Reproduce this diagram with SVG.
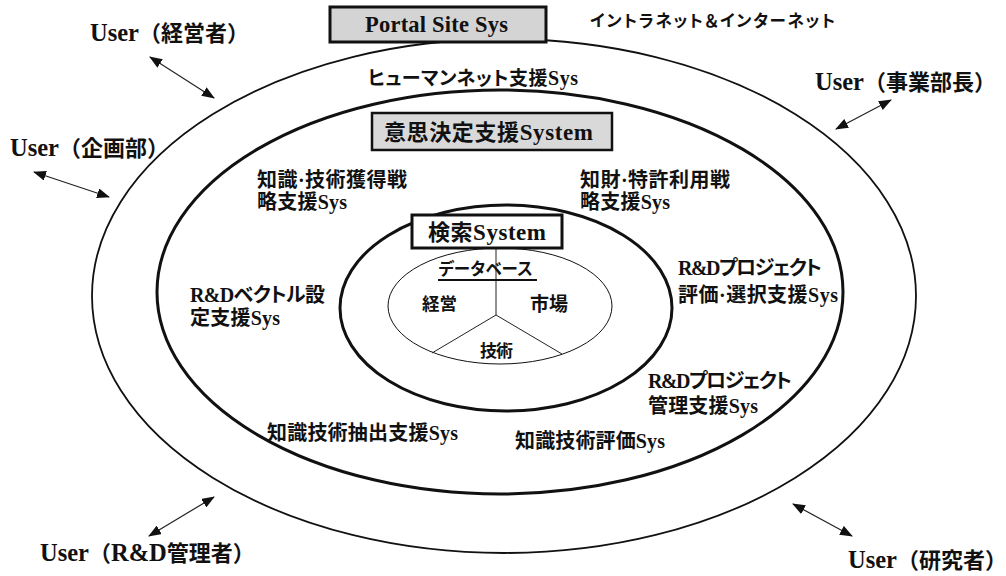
<svg xmlns="http://www.w3.org/2000/svg" width="1006" height="576" viewBox="0 0 1006 576">
  <style>
    .t { font-family: 'Liberation Serif', 'Noto Sans CJK JP', serif; font-weight: bold; fill: #111; }
    .u { font-size: 22px; }
    .ul { font-size: 24.5px; }
    .m { font-size: 20px; }
    .k { font-feature-settings: "palt"; }
    .ring { fill: none; stroke: #111; }
    .conn { stroke: #222; stroke-width: 1.2; fill: none; marker-start: url(#ah); marker-end: url(#ah); }
  </style>
  <defs>
    <marker id="ah" viewBox="0 0 13 10" refX="12" refY="5" markerWidth="13" markerHeight="10" markerUnits="userSpaceOnUse" orient="auto-start-reverse">
      <path d="M0,0 L13,5 L0,10 Z" fill="#111"/>
    </marker>
  </defs>
  <rect width="1006" height="576" fill="#fff"/>

  <g id="rings">
    <ellipse id="outer-ring" class="ring" cx="504" cy="296" rx="412" ry="257" stroke-width="1.8"/>
    <ellipse id="middle-ring" class="ring" cx="500" cy="292" rx="343" ry="202" stroke-width="3"/>
    <ellipse id="inner-ring" class="ring" cx="506" cy="308" rx="166" ry="103" stroke-width="3"/>
  </g>

  <g id="database">
    <ellipse class="ring" cx="500" cy="306" rx="112" ry="58" stroke-width="1"/>
    <path d="M496,248 L496,315 M496,315 L432,353 M496,315 L562,354" stroke="#222" stroke-width="1" fill="none"/>
    <text class="t" x="438" y="275" font-size="16.5" textLength="95" lengthAdjust="spacing">データベース</text>
    <line x1="438" y1="280" x2="537" y2="280" stroke="#111" stroke-width="2.2"/>
    <text class="t" x="422" y="310" font-size="17.5" textLength="35" lengthAdjust="spacing">経営</text>
    <text class="t" x="530" y="311" font-size="19" textLength="38" lengthAdjust="spacing">市場</text>
    <text class="t" x="480" y="357" font-size="17" textLength="33" lengthAdjust="spacing">技術</text>
  </g>

  <g id="portal-site-sys">
    <rect x="330" y="7" width="216" height="35" fill="#d4d4d4" stroke="#111" stroke-width="3"/>
    <text class="t" x="365" y="32" font-size="22.5" textLength="143" lengthAdjust="spacing">Portal Site Sys</text>
  </g>
  <g id="intranet">
    <text class="t k" x="590" y="27" font-size="16.5" textLength="245" lengthAdjust="spacing">イントラネット＆インターネット</text>
  </g>
  <g id="humannet">
    <text class="t k" x="368" y="85" font-size="19" textLength="210" lengthAdjust="spacing">ヒューマンネット支援<tspan font-size="20">Sys</tspan></text>
  </g>
  <g id="decision-system">
    <rect x="372" y="113" width="240" height="37" fill="#d9d9d9" stroke="#111" stroke-width="2.5"/>
    <text class="t" x="384" y="140" font-size="22" textLength="209" lengthAdjust="spacing">意思決定支援<tspan font-size="23">System</tspan></text>
  </g>
  <g id="search-system">
    <rect x="412" y="215" width="150" height="33" fill="#fff" stroke="#111" stroke-width="3"/>
    <text class="t" x="428" y="240" font-size="22" textLength="118" lengthAdjust="spacing">検索<tspan font-size="23">System</tspan></text>
  </g>

  <g id="knowledge-acq">
    <text class="t m" x="257" y="187" textLength="150" lengthAdjust="spacing">知識·技術獲得戦</text>
    <text class="t m" x="257" y="209" textLength="90" lengthAdjust="spacing">略支援Sys</text>
  </g>
  <g id="ip-patent">
    <text class="t m" x="580" y="187" textLength="150" lengthAdjust="spacing">知財·特許利用戦</text>
    <text class="t m" x="580" y="209" textLength="90" lengthAdjust="spacing">略支援Sys</text>
  </g>
  <g id="rd-vector">
    <text class="t m k" x="190" y="302" textLength="135" lengthAdjust="spacing">R&amp;Dベクトル設</text>
    <text class="t m" x="190" y="325" textLength="90" lengthAdjust="spacing">定支援Sys</text>
  </g>
  <g id="rd-project-eval">
    <text class="t m k" x="678" y="275" textLength="144" lengthAdjust="spacing">R&amp;Dプロジェクト</text>
    <text class="t m" x="678" y="302" textLength="160" lengthAdjust="spacing">評価·選択支援Sys</text>
  </g>
  <g id="rd-project-mgmt">
    <text class="t m k" x="648" y="388" textLength="144" lengthAdjust="spacing">R&amp;Dプロジェクト</text>
    <text class="t m" x="648" y="413" textLength="110" lengthAdjust="spacing">管理支援Sys</text>
  </g>
  <g id="knowledge-extract">
    <text class="t m" x="267" y="440" textLength="191" lengthAdjust="spacing">知識技術抽出支援Sys</text>
  </g>
  <g id="knowledge-eval">
    <text class="t m" x="515" y="448" textLength="150" lengthAdjust="spacing">知識技術評価Sys</text>
  </g>

  <g id="user-executive"><text class="t u" x="90" y="41"><tspan class="ul">User</tspan>（経営者）</text></g>
  <g id="user-planning"><text class="t u" x="10" y="156"><tspan class="ul">User</tspan>（企画部）</text></g>
  <g id="user-division"><text class="t u" x="815" y="90"><tspan class="ul">User</tspan>（事業部長）</text></g>
  <g id="user-rdmanager"><text class="t u" x="40" y="561"><tspan class="ul">User</tspan>（<tspan class="ul">R&amp;D</tspan>管理者）</text></g>
  <g id="user-researcher"><text class="t u" x="848" y="568"><tspan class="ul">User</tspan>（研究者）</text></g>

  <g id="connectors">
    <line class="conn" x1="150" y1="57" x2="214" y2="98"/>
    <line class="conn" x1="34" y1="172" x2="109" y2="197"/>
    <line class="conn" x1="836" y1="129" x2="891" y2="100"/>
    <line class="conn" x1="149" y1="536" x2="214" y2="497"/>
    <line class="conn" x1="793" y1="504" x2="852" y2="536"/>
  </g>
</svg>
